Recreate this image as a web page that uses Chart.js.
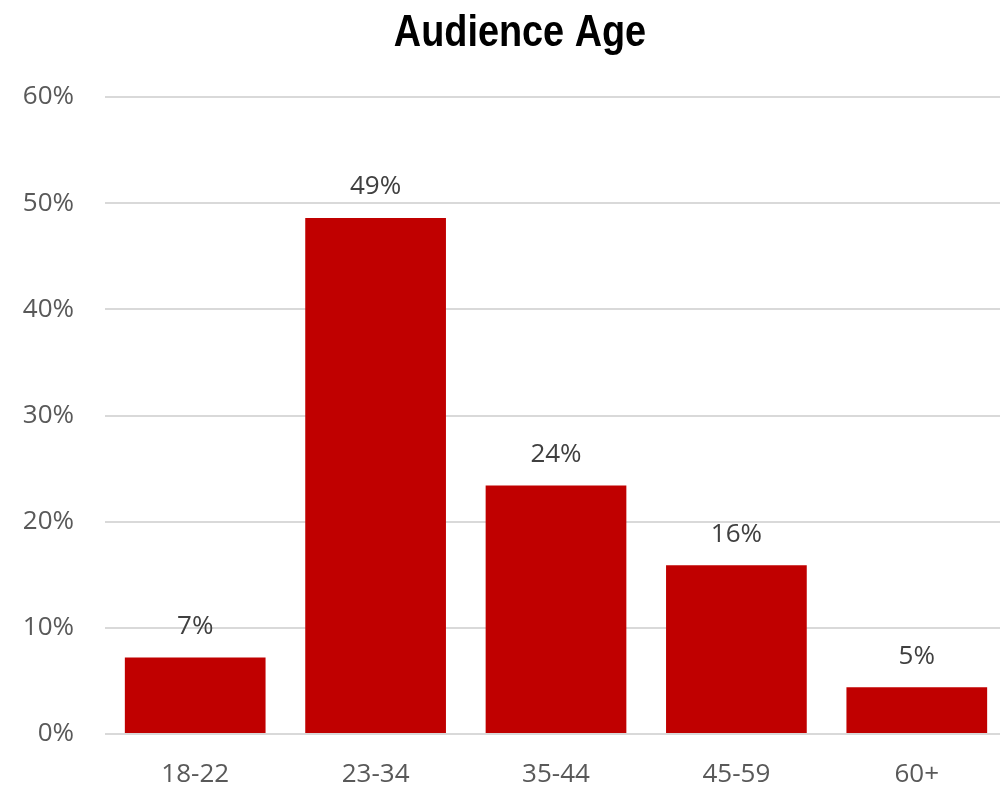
<!DOCTYPE html>
<html>
<head>
<meta charset="utf-8">
<title>Audience Age</title>
<script src="https://cdn.jsdelivr.net/npm/chart.js@4.4.1/dist/chart.umd.min.js"></script>
<style>
  html, body { margin: 0; padding: 0; background: #fff; overflow: hidden; }
  #wrap { width: 1007px; height: 789px; }
</style>
</head>
<body>
<div id="wrap"><canvas id="chart"></canvas></div>
<script>
const chartTitle = 'Audience Age';
const ageGroups = ['18-22', '23-34', '35-44', '45-59', '60+'];
const audienceShare = [7.2, 48.6, 23.4, 15.9, 4.4];
const shareLabels = ['7%', '49%', '24%', '16%', '5%'];
const yTicks = [0, 10, 20, 30, 40, 50, 60];

// draws title and the value labels above each bar
const labelPlugin = {
  id: 'barLabels',
  afterDatasetsDraw(chart) {
    const ctx = chart.ctx;
    const meta = chart.getDatasetMeta(0);
    ctx.save();
    ctx.fillStyle = '#404040';
    ctx.font = '26px "Open Sans"';
    ctx.textAlign = 'center';
    ctx.textBaseline = 'middle';
    meta.data.forEach((bar, i) => {
      ctx.fillText(shareLabels[i], bar.x, bar.y - 31);
    });

    // narrow bold title (squeezed Liberation Sans)
    ctx.fillStyle = '#000';
    ctx.font = 'bold 44px "Liberation Sans"';
    ctx.textBaseline = 'alphabetic';
    ctx.translate(520, 46);
    ctx.scale(0.86, 1);
    ctx.fillText(chartTitle, 0, 0);
    ctx.restore();
  }
};

const ctx = document.getElementById('chart').getContext('2d');
new Chart(ctx, {
  type: 'bar',
  data: {
    labels: ageGroups,
    datasets: [{
      data: audienceShare,
      backgroundColor: '#C00000',
      borderWidth: 0,
      categoryPercentage: 1,
      barPercentage: 0.78
    }]
  },
  options: {
    responsive: true,
    maintainAspectRatio: false,
    animation: false,
    layout: { padding: { top: 97, left: 0, right: 0, bottom: 0 } },
    plugins: {
      legend: { display: false },
      tooltip: { enabled: false },
      title: { display: false }
    },
    scales: {
      x: {
        grid: { display: false, drawTicks: false },
        border: { display: false },
        ticks: {
          color: '#595959',
          font: { family: 'Open Sans', size: 26 },
          padding: 25
        },
        afterFit(scale) { scale.height = 55; }
      },
      y: {
        min: 0,
        max: 60,
        afterBuildTicks(scale) {
          scale.ticks = yTicks.map(v => ({ value: v }));
        },
        grid: { color: '#d9d9d9', lineWidth: 2, drawTicks: false },
        border: { display: false },
        ticks: {
          color: '#595959',
          font: { family: 'Open Sans', size: 26 },
          padding: 31,
          callback: v => v + '%'
        },
        afterFit(scale) { scale.width = 105; }
      }
    }
  },
  plugins: [labelPlugin]
});
</script>
</body>
</html>
